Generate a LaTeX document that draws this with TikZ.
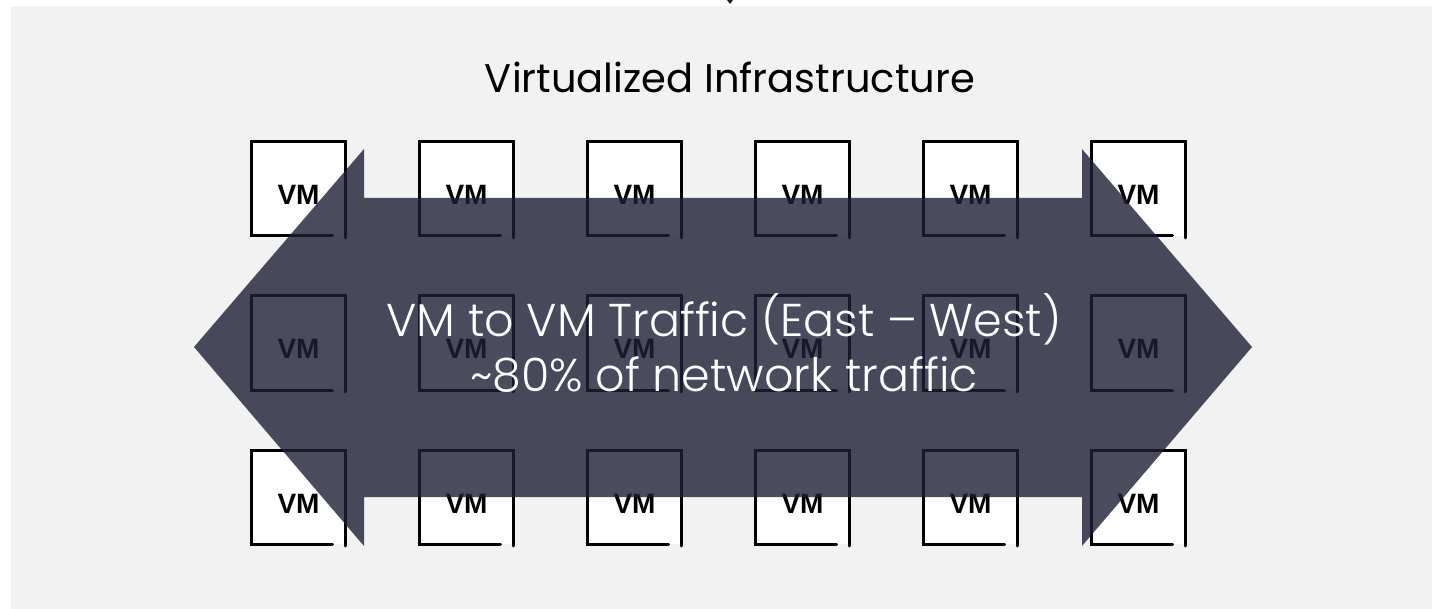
\documentclass[tikz,border=0pt]{standalone}
\usepackage{fontspec}
\newfontfamily\titlefont{Poppins}
\newfontfamily\lightfont{Poppins Light}
\newfontfamily\vmfont{Liberation Sans}

\definecolor{bggray}{HTML}{F2F2F2}
\definecolor{arrowblue}{RGB}{29,31,53}

\tikzset{
  vm/.style={fill=white, inner sep=0pt, outer sep=0pt, minimum width=94pt, minimum height=94pt,
    text height=32pt, text depth=0pt, font=\vmfont\bfseries\fontsize{28}{28}\selectfont},
  vmline/.style={line width=3pt, line cap=round},
  traffic/.style={text=white, align=center, inner sep=0pt, font=\lightfont\fontsize{46}{55}\selectfont}
}

\begin{document}
\begin{tikzpicture}[x=1pt,y=-1pt]
\useasboundingbox (0,0) rectangle (1432,609);
\fill[bggray] (11,6) rectangle (1432,609);
\fill[arrowblue] (727,0) -- (733,0) -- (730,4) -- cycle;

\node[anchor=base, font=\titlefont\fontsize{40}{40}\selectfont] (title) at (730,93) {Virtualized Infrastructure};

\node[vm] (vm11) at (298.5,189) {VM};
\node[vm] (vm12) at (466.5,189) {VM};
\node[vm] (vm13) at (634.5,189) {VM};
\node[vm] (vm14) at (802.5,189) {VM};
\node[vm] (vm15) at (970.5,189) {VM};
\node[vm] (vm16) at (1138.5,189) {VM};

\node[vm] (vm21) at (298.5,343) {VM};
\node[vm] (vm22) at (466.5,343) {VM};
\node[vm] (vm23) at (634.5,343) {VM};
\node[vm] (vm24) at (802.5,343) {VM};
\node[vm] (vm25) at (970.5,343) {VM};
\node[vm] (vm26) at (1138.5,343) {VM};

\node[vm] (vm31) at (298.5,497) {VM};
\node[vm] (vm32) at (466.5,497) {VM};
\node[vm] (vm33) at (634.5,497) {VM};
\node[vm] (vm34) at (802.5,497) {VM};
\node[vm] (vm35) at (970.5,497) {VM};
\node[vm] (vm36) at (1138.5,497) {VM};

% open corner at the bottom right of each box
\foreach \v in {vm11,vm12,vm13,vm14,vm15,vm16,vm21,vm22,vm23,vm24,vm25,vm26,vm31,vm32,vm33,vm34,vm35,vm36}
  \draw[vmline] ([xshift=-13pt]\v.south east) -- (\v.south west) -- (\v.north west)
    -- (\v.north east) -- ([yshift=-2pt]\v.south east);

% east-west arrow
\fill[arrowblue, fill opacity=0.8] (194,347) -- (364,149) -- (364,198) -- (1082,198) -- (1082,149)
  -- (1252,347) -- (1082,546) -- (1082,497) -- (364,497) -- (364,546) -- cycle;
\node[traffic] (ew) at (724,343) {VM to VM Traffic (East – West)\\\textasciitilde80\% of network traffic};
\end{tikzpicture}
\end{document}
